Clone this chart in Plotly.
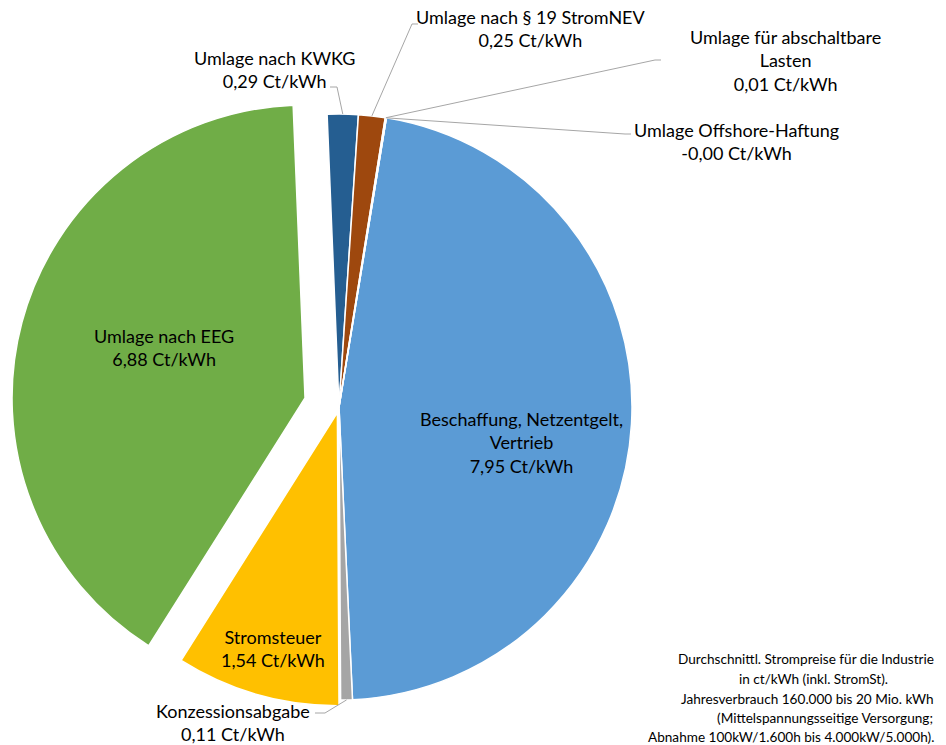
import math
import plotly.graph_objects as go

# Durchschnittliche Strompreise für die Industrie, Bestandteile in Ct/kWh
categories = [
    "Beschaffung, Netzentgelt,<br>Vertrieb",
    "Konzessionsabgabe",
    "Stromsteuer",
    "Umlage nach EEG",
    "Umlage nach KWKG",
    "Umlage nach § 19 StromNEV",
    "Umlage für abschaltbare<br>Lasten",
    "Umlage Offshore-Haftung",
]
values = [7.95, 0.11, 1.54, 6.88, 0.29, 0.25, 0.01, -0.001]
colors = ["#5B9BD5", "#A5A5A5", "#FFC000", "#70AD47",
          "#255E91", "#9E480E", "#636363", "#997300"]
pulls = [0, 0, 0.02, 0.12, 0, 0, 0, 0]

footnote_lines = [
    "Durchschnittl. Strompreise für die Industrie",
    "in ct/kWh (inkl. StromSt).",
    "Jahresverbrauch 160.000 bis 20 Mio. kWh",
    "(Mittelspannungsseitige Versorgung;",
    "Abnahme 100kW/1.600h bis 4.000kW/5.000h).",
]

W, H = 946, 745
FONT = "Lato, Carlito, 'Open Sans', sans-serif"

# pie geometry in pixels
CX, CY, R = 339.0, 407.0, 293.0
ROTATION = 9.3
max_pull = max(pulls)
half_box = R * (1 + max_pull)
dom_x = [(CX - half_box) / W, (CX + half_box) / W]
dom_y = [(H - CY - half_box) / H, (H - CY + half_box) / H]


def px(x):
    return x / W


def py(y):
    return 1 - y / H


def fmt(v):
    return f"{v:.2f}".replace(".", ",") + " Ct/kWh"


pie_vals = [max(v, 0) for v in values]
total = sum(pie_vals)

# mid angle of every slice (clockwise from 12 o'clock)
mid_angles = []
acc = ROTATION
for v in pie_vals:
    mid_angles.append(acc + v / total * 360 / 2)
    acc += v / total * 360


def arc_point(i):
    a = math.radians(mid_angles[i])
    off = pulls[i] * R
    x = CX + (R + off) * math.sin(a)
    y = CY - (R + off) * math.cos(a)
    return x, y


fig = go.Figure(
    go.Pie(
        labels=[c.replace("<br>", " ") for c in categories],
        values=pie_vals,
        sort=False,
        direction="clockwise",
        rotation=ROTATION,
        pull=pulls,
        marker=dict(colors=colors, line=dict(color="white", width=1.5)),
        textinfo="none",
        hoverinfo="label+value",
        domain=dict(x=dom_x, y=dom_y),
        showlegend=False,
    )
)

# label positions (pixel centre) and leader-line elbows
label_pos = {
    0: (521, 442),
    1: (233, 722),
    2: (273, 648),
    3: (164, 347),
    4: (274, 70),
    5: (531, 29),
    6: (785, 61),
    7: (736, 141),
}
elbows = {
    1: [(325, 713), (315, 713)],
    4: [(337, 87), (330, 87)],
    5: [(412, 24), (418, 24)],
    6: [(655, 60), (661, 60)],
    7: [(625, 134), (631, 134)],
}

annotations = []
for i, (x, y) in label_pos.items():
    annotations.append(dict(
        x=px(x), y=py(y), xref="paper", yref="paper",
        text=f"{categories[i]}<br>{fmt(values[i])}",
        showarrow=False, xanchor="center", yanchor="middle",
        align="center", font=dict(family=FONT, size=18, color="#000000"),
    ))

shapes = []
for i, pts in elbows.items():
    ax, ay = arc_point(i)
    path_pts = [(ax, ay)] + pts
    d = "M " + " L ".join(f"{px(x):.5f},{py(y):.5f}" for x, y in path_pts)
    shapes.append(dict(type="path", path=d, xref="paper", yref="paper",
                       line=dict(color="#A6A6A6", width=1)))

# footnote, right aligned
foot_right = [936, 890, 936, 935, 936]
foot_y = [659, 679, 699, 718, 737]
for t, xr, y in zip(footnote_lines, foot_right, foot_y):
    annotations.append(dict(
        x=px(xr), y=py(y), xref="paper", yref="paper", text=t,
        showarrow=False, xanchor="right", yanchor="middle",
        font=dict(family=FONT, size=13.6, color="#000000"),
    ))

fig.update_layout(
    width=W, height=H,
    margin=dict(l=0, r=0, t=0, b=0),
    paper_bgcolor="white", plot_bgcolor="white",
    annotations=annotations, shapes=shapes,
)

fig.write_html("out.html")
